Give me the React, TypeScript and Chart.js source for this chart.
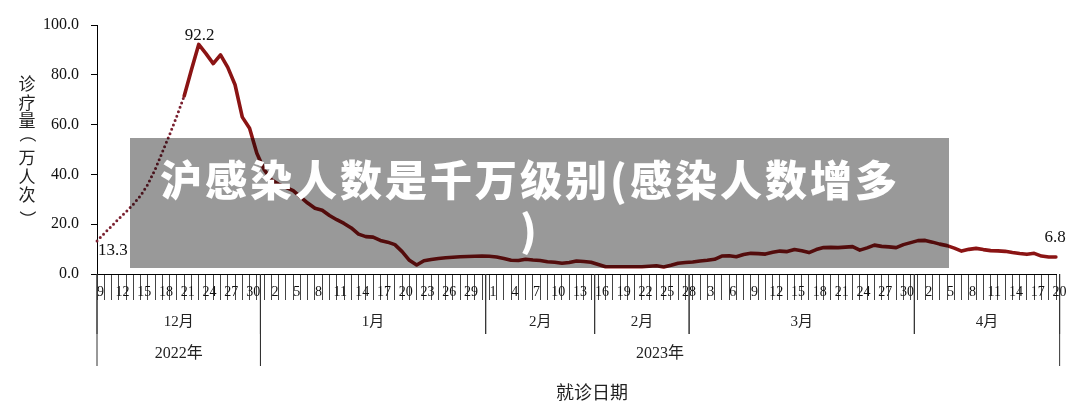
import { useEffect, useRef } from "react"
import { Chart, type ChartConfiguration, type Plugin, registerables } from "chart.js"

Chart.register(...registerables)

// month spans of the daily axis: [month number, first day, last day]
const monthSpans: [number, number, number][] = [
  [12, 9, 31],
  [1, 1, 31],
  [2, 1, 28],
  [3, 1, 31],
  [4, 1, 20],
]

const days: string[] = []
monthSpans.forEach(([, from, to]) => {
  for (let d = from; d <= to; d++) days.push(String(d))
})

// 诊疗量（万人次）, one value per day from 12/9 to 4/20
const visits = [
  13.3, 16.3, 19.2, 22.2, 25.0, 28.0, 31.5, 36.0, 42.0, 49.0,
  56.0, 63.5, 71.5, 82.0, 92.2, 88.5, 84.5, 88.0, 83.0, 76.0,
  63.0, 58.5, 48.5, 42.0, 37.8, 36.0, 34.8, 33.5, 31.0, 28.5,
  26.4, 25.6, 23.5, 21.8, 20.3, 18.5, 16.0, 15.0, 14.8, 13.5,
  12.8, 11.8, 9.0, 5.5, 3.6, 5.3, 5.8, 6.2, 6.5, 6.7,
  6.9, 7.0, 7.1, 7.2, 7.1, 6.8, 6.2, 5.5, 5.4, 5.9,
  5.6, 5.4, 4.9, 4.7, 4.3, 4.6, 5.2, 5.0, 4.7, 3.8,
  2.9, 2.9, 2.9, 2.9, 2.9, 2.9, 3.1, 3.3, 2.8, 3.5,
  4.3, 4.6, 4.8, 5.2, 5.5, 5.9, 7.2, 7.3, 6.9, 7.8,
  8.3, 8.2, 8.0, 8.7, 9.2, 9.0, 9.8, 9.3, 8.6, 9.8,
  10.6, 10.7, 10.6, 10.8, 11.0, 9.6, 10.5, 11.6, 11.1, 10.9,
  10.6, 11.8, 12.6, 13.4, 13.5, 12.8, 12.0, 11.4, 10.4, 9.2,
  9.9, 10.3, 9.8, 9.4, 9.3, 9.1, 8.6, 8.2, 7.9, 8.3,
  7.2, 6.8, 6.8,
]

// the first days are drawn dotted, up to this index
const dottedUntil = 12

// points that carry a value label
const labelledPoints = [0, 14, 132]

// month and year groups under the day labels: [text, first index, end index]
const monthGroups: [string, number, number][] = [
  ["12月", 0, 23],
  ["1月", 23, 54],
  ["2月", 54, 69],
  ["2月", 69, 82],
  ["3月", 82, 113],
  ["4月", 113, 133],
]
const yearGroups: [string, number, number][] = [
  ["2022年", 0, 23],
  ["2023年", 23, 133],
]

const yTitle = ["诊", "疗", "量", "（", "万", "人", "次", "）"]
const xTitle = "就诊日期"

const serif = "'Liberation Serif', 'Noto Sans CJK SC', serif"
const cjk = "'Noto Sans CJK SC', sans-serif"

const axisDecor: Plugin<"line"> = {
  id: "axisDecor",
  afterDraw: (chart) => {
    const { ctx, chartArea, scales } = chart
    const x = scales.x
    const edge = (i: number) => (i === 0 ? chartArea.left : x.getPixelForValue(i - 0.5))
    const base = chartArea.bottom

    ctx.save()
    ctx.strokeStyle = "#333333"
    ctx.lineWidth = 1
    ctx.fillStyle = "#222222"
    ctx.textAlign = "center"
    ctx.textBaseline = "middle"

    // month dividers and labels
    ctx.font = `15px ${serif}`
    monthGroups.forEach(([text, a, b]) => {
      const x0 = edge(a)
      const x1 = edge(b)
      ctx.beginPath()
      ctx.moveTo(x0, base)
      ctx.lineTo(x0, 334)
      ctx.moveTo(x1, base)
      ctx.lineTo(x1, 334)
      ctx.stroke()
      ctx.fillText(text, (x0 + x1) / 2, 322)
    })

    // year dividers and labels
    ctx.font = `16px ${serif}`
    yearGroups.forEach(([text, a, b]) => {
      const x0 = edge(a)
      const x1 = edge(b)
      ctx.beginPath()
      ctx.moveTo(x0, base)
      ctx.lineTo(x0, 366)
      ctx.moveTo(x1, base)
      ctx.lineTo(x1, 366)
      ctx.stroke()
      ctx.fillText(text, (x0 + x1) / 2, 354)
    })

    // axis titles
    ctx.font = `18px ${cjk}`
    ctx.fillText(xTitle, 592, 392)

    // vertical title: brackets are turned to lie across the column
    ctx.font = `17px ${cjk}`
    yTitle.forEach((ch, i) => {
      const cy = 84 + i * 18.5
      if (ch === "（" || ch === "）") {
        ctx.save()
        ctx.textAlign = "left"
        ctx.textBaseline = "alphabetic"
        const m = ctx.measureText(ch)
        const gx = (m.actualBoundingBoxRight - m.actualBoundingBoxLeft) / 2
        const gy = (m.actualBoundingBoxDescent - m.actualBoundingBoxAscent) / 2
        ctx.translate(27, cy)
        ctx.rotate(Math.PI / 2)
        ctx.fillText(ch, -gx, -gy)
        ctx.restore()
      } else {
        ctx.fillText(ch, 27, cy)
      }
    })

    // value labels
    const meta = chart.getDatasetMeta(0)
    ctx.font = `17px ${serif}`
    ctx.fillStyle = "#111111"
    labelledPoints.forEach((i) => {
      const pt = meta.data[i]
      const text = visits[i].toFixed(1)
      if (i === 0) {
        ctx.textAlign = "left"
        ctx.fillText(text, pt.x + 1, pt.y + 10)
      } else if (i === visits.length - 1) {
        ctx.textAlign = "center"
        ctx.fillText(text, pt.x - 1, pt.y - 20)
      } else {
        ctx.textAlign = "center"
        ctx.fillText(text, pt.x + 1, pt.y - 9)
      }
    })
    ctx.restore()
  },
}

function VisitsChart() {
  const canvasRef = useRef<HTMLCanvasElement>(null)
  const chartInstance = useRef<Chart | null>(null)

  useEffect(() => {
    if (!canvasRef.current) return
    const ctx = canvasRef.current.getContext("2d")
    if (!ctx) return

    const config: ChartConfiguration<"line"> = {
      type: "line",
      data: {
        labels: days,
        datasets: [
          {
            data: visits,
            borderColor: "#8b1414",
            borderWidth: 3.6,
            borderCapStyle: "round",
            borderJoinStyle: "round",
            tension: 0,
            pointRadius: 0,
            segment: {
              borderDash: (c) => (c.p1DataIndex <= dottedUntil ? [0, 4.7] : undefined),
              borderColor: (c) => (c.p1DataIndex <= dottedUntil ? "#7a2030" : undefined),
              borderWidth: (c) => (c.p1DataIndex <= dottedUntil ? 3 : undefined),
            },
          },
        ],
      },
      options: {
        animation: false,
        responsive: true,
        maintainAspectRatio: false,
        layout: { padding: { top: 25, right: 24, left: 0, bottom: 0 } },
        plugins: {
          legend: { display: false },
          tooltip: { enabled: false },
        },
        scales: {
          x: {
            type: "category",
            offset: false,
            afterFit: (s) => {
              s.height = 132
            },
            grid: {
              drawOnChartArea: false,
              drawTicks: true,
              tickLength: 26,
              color: "#444444",
              offset: false,
            },
            border: { color: "#000000", width: 1 },
            ticks: {
              autoSkip: false,
              maxRotation: 0,
              minRotation: 0,
              padding: -16,
              labelOffset: 3.6,
              color: "#111111",
              font: { family: serif, size: 14 },
              callback: (_v, i) => (i % 3 === 0 ? days[i] : ""),
            },
          },
          y: {
            min: 0,
            max: 100,
            afterFit: (s) => {
              s.width = 97
            },
            grid: { drawOnChartArea: false, tickLength: 6, color: "#000000" },
            border: { color: "#000000", width: 1 },
            ticks: {
              stepSize: 20,
              padding: 12,
              color: "#111111",
              font: { family: serif, size: 16 },
              callback: (v) => Number(v).toFixed(1),
            },
          },
        },
      },
      plugins: [axisDecor],
    }

    chartInstance.current = new Chart(ctx, config)

    return () => {
      if (chartInstance.current) {
        chartInstance.current.destroy()
        chartInstance.current = null
      }
    }
  }, [])

  return (
    <div style={{ position: "absolute", left: 0, top: 0, width: 1080, height: 406 }}>
      <canvas ref={canvasRef} style={{ display: "block" }} />
    </div>
  )
}

export default function App() {
  return (
    <div style={{ position: "fixed", left: 0, top: 0, width: 1080, height: 406, background: "#ffffff", overflow: "hidden" }}>
      <VisitsChart />
      <div
        style={{
          position: "absolute",
          left: 130,
          top: 138,
          width: 819,
          height: 130,
          background: "rgba(0,0,0,0.4)",
        }}
      />
      <div
        style={{
          position: "absolute",
          left: 145,
          top: 153,
          width: 770,
          color: "#ffffff",
          fontFamily: cjk,
          fontWeight: 900,
          fontSize: 42,
          lineHeight: "50px",
          letterSpacing: 3,
          textAlign: "center",
        }}
      >
        沪感染人数是千万级别(感染人数增多
        <br />)
      </div>
    </div>
  )
}
